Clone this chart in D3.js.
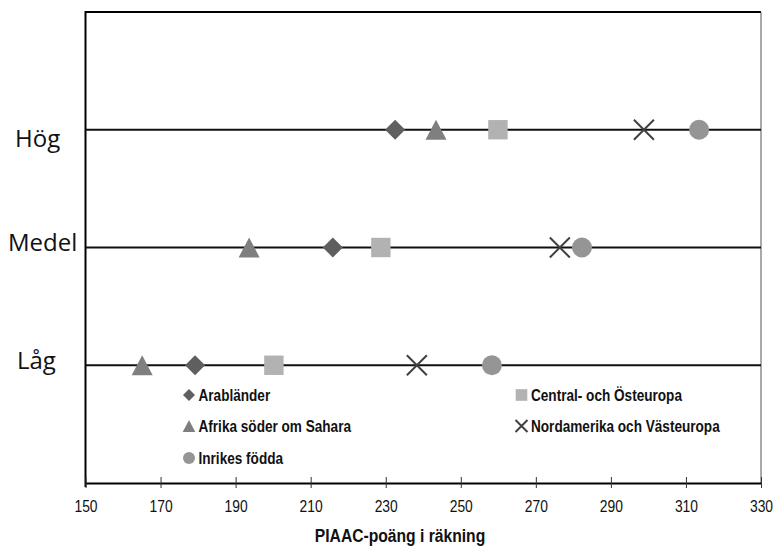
<!DOCTYPE html>
<html><head><meta charset="utf-8">
<script src="https://cdn.jsdelivr.net/npm/d3@7"></script>
<style>
body{margin:0;background:#fff;}
svg{display:block;}
.narrow{font-family:"Liberation Sans",Arial,sans-serif;}
</style></head>
<body><svg id="c" width="776" height="547"></svg>
<script>
// ---- data ----
const categories = ["Låg", "Medel", "Hög"];
const seriesNames = ["Arabländer", "Afrika söder om Sahara", "Central- och Östeuropa", "Nordamerika och Västeuropa", "Inrikes födda"];
const arablander   = [179.2, 215.9, 232.5];
const afrika       = [165.1, 193.6, 243.4];
const centralOst   = [200.2, 228.7, 259.9];
const nordamerika  = [238.3, 276.4, 298.8];
const inrikes      = [258.3, 282.3, 313.5];
const xTicks = [150, 170, 190, 210, 230, 250, 270, 290, 310, 330];
const xTitle = "PIAAC-poäng i räkning";

// ---- styles ----
const seriesValues = [arablander, afrika, centralOst, nordamerika, inrikes];
const shapes = ["diamond", "triangle", "square", "cross", "circle"];
const colors = ["#5f5f5f", "#7f7f7f", "#b2b2b2", "#404040", "#959595"];

const svg = d3.select("#c");
const L = 85.5, R = 761, T = 12, B = 483;
const x = d3.scaleLinear().domain([150, 330]).range([L, R]);
const y = d3.scalePoint().domain(categories).range([B, T]).padding(1);

function shapePath(kind, s) {
  switch (kind) {
    case "diamond": return `M0,${-s}L${s},0L0,${s}L${-s},0Z`;
    case "triangle": return `M0,${-s}L${s*1.05},${s}L${-s*1.05},${s}Z`;
    case "square": return `M${-s*0.97},${-s*0.97}H${s*0.97}V${s*0.97}H${-s*0.97}Z`;
    case "cross": return `M${-s},${-s}L${s},${s}M${s},${-s}L${-s},${s}`;
    case "circle": return d3.symbol(d3.symbolCircle, Math.PI * s * s)();
  }
}
function drawShape(g, kind, color, s, cx, cy) {
  const p = g.append("path").attr("d", shapePath(kind, s)).attr("transform", `translate(${cx},${cy})`);
  if (kind === "cross") p.attr("fill", "none").attr("stroke", color).attr("stroke-width", 2);
  else p.attr("fill", color);
}

// frame
svg.append("line").attr("x1", L).attr("x2", R).attr("y1", T).attr("y2", T).attr("stroke", "#000").attr("stroke-width", 2);
svg.append("line").attr("x1", L).attr("x2", L).attr("y1", T - 1).attr("y2", B + 4).attr("stroke", "#000").attr("stroke-width", 2);
svg.append("line").attr("x1", R).attr("x2", R).attr("y1", T).attr("y2", B).attr("stroke", "#555").attr("stroke-width", 1);

// x axis
const xAxis = d3.axisBottom(x).tickValues(xTicks).tickSize(0).tickPadding(0);
const ax = svg.append("g").attr("transform", `translate(0,${B})`).call(xAxis);
ax.select(".domain").attr("stroke", "#000").attr("stroke-width", 2);
ax.selectAll(".tick line").remove();
ax.selectAll(".tick").append("line").attr("y1", -6).attr("y2", 5).attr("stroke", "#333").attr("stroke-width", 1);
ax.selectAll(".tick text").attr("class", "narrow").attr("x", null).attr("y", null).attr("dy", null)
  .attr("transform", "translate(0,29) scale(0.84,1)")
  .attr("font-family", "Liberation Sans, Arial, sans-serif")
  .attr("font-size", 16.5).attr("fill", "#111");

svg.append("text").attr("class", "narrow")
  .attr("transform", "translate(400,542) scale(0.87,1)")
  .attr("text-anchor", "middle").attr("font-size", 18).attr("font-weight", "bold").attr("fill", "#111").text(xTitle);

// row lines
svg.selectAll(".row").data(categories).join("line")
  .attr("x1", L).attr("x2", R).attr("y1", d => y(d)).attr("y2", d => y(d))
  .attr("stroke", "#111").attr("stroke-width", 2);

// category labels
const labelDy = {"Hög": 17, "Medel": 3, "Låg": 4};
const labelX = {"Hög": 15, "Medel": 8, "Låg": 17};
svg.selectAll(".cat").data(categories).join("text")
  .attr("x", d => labelX[d]).attr("y", d => y(d) + labelDy[d])
  .attr("font-family", "'Open Sans', sans-serif").attr("font-size", 24).attr("fill", "#111")
  .text(d => d);

// markers
const mg = svg.append("g");
seriesValues.forEach((vals, si) => {
  vals.forEach((v, ci) => drawShape(mg, shapes[si], colors[si], 10, x(v), y(categories[ci])));
});

// legend
const legendPos = [[189, 395], [189, 426], [521.5, 395], [521.5, 426], [189, 458]];
const lg = svg.append("g");
seriesNames.forEach((name, i) => {
  const [lx, ly] = legendPos[i];
  drawShape(lg, shapes[i], colors[i], 6, lx, ly);
  lg.append("text").attr("class", "narrow")
    .attr("transform", `translate(${lx + 9.5},${ly + 6}) scale(0.8,1)`)
    .attr("font-size", 17).attr("font-weight", "bold").attr("fill", "#111").text(name);
});
</script></body></html>
